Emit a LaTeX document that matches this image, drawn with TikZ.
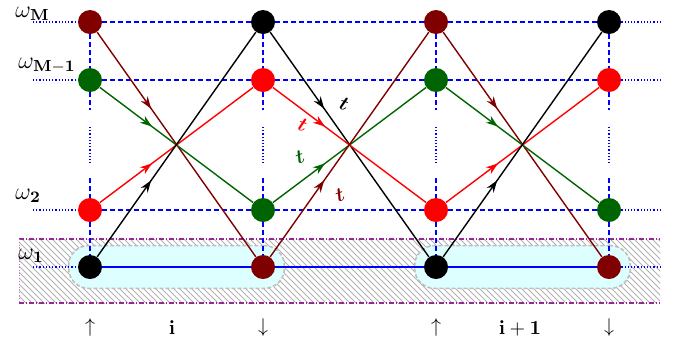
\documentclass[tikz,border=0pt]{standalone}
\usepackage{amsmath,amssymb,bm}
\usetikzlibrary{arrows.meta,positioning,fit,decorations.markings,patterns,backgrounds}
\definecolor{wred}{RGB}{128,0,0}
\definecolor{wgreen}{RGB}{0,100,0}
\definecolor{gridblue}{RGB}{0,0,255}
\definecolor{bandpurple}{RGB}{150,40,150}
\definecolor{cellcyan}{RGB}{222,255,255}

\begin{document}
\begin{tikzpicture}[
        x=0.5pt,y=-0.5pt,
        site/.style={circle,fill=#1,minimum size=12pt,inner sep=0pt},
        grid/.style={gridblue,thick,dash pattern=on 2.5pt off 1.5pt},
        ext/.style={gridblue,semithick,densely dotted},
        hop/.style={#1,line width=0.7pt,postaction={decorate},
                    decoration={markings,mark=at position 0.34 with {\arrow{Stealth[length=6pt,width=4.2pt]}}}},
        cell/.style={draw=gray!50,thick,dash pattern=on 2pt off 1pt,fill=cellcyan,
                     rounded corners=10pt,inner sep=4.5pt},
        wlbl/.style={anchor=south west,inner sep=0pt,font=\large},
        tlbl/.style={inner sep=0pt},
      ]
        \useasboundingbox (0,0) rectangle (673,349);
        % sites, odd and even columns
        \foreach \c/\x in {1/90,3/436}{
          \node[site=wred]   (c\c-4) at (\x,22)  {};
          \node[site=wgreen] (c\c-3) at (\x,80)  {};
          \node[site=red]    (c\c-2) at (\x,210) {};
          \node[site=black]  (c\c-1) at (\x,267) {};
        }
        \foreach \c/\x in {2/263,4/609}{
          \node[site=black]  (c\c-4) at (\x,22)  {};
          \node[site=red]    (c\c-3) at (\x,80)  {};
          \node[site=wgreen] (c\c-2) at (\x,210) {};
          \node[site=wred]   (c\c-1) at (\x,267) {};
        }
        % hatched band and cells
        \begin{scope}[on background layer]
          \path[pattern=north west lines,pattern color=gray!60] (19,239) rectangle (660,303);
          \draw[bandpurple,thick,dash pattern=on 2.5pt off 1pt on 0.5pt off 1pt] (19,239) -- (660,239);
          \draw[bandpurple,thick,dash pattern=on 2.5pt off 1pt on 0.5pt off 1pt] (19,303) -- (660,303);
          \draw[bandpurple!60,densely dotted] (19,239) -- (19,303);
          \node[cell,fit=(c1-1)(c2-1)] (cell-i) {};
          \node[cell,fit=(c3-1)(c4-1)] (cell-ii) {};
        \end{scope}
        % frequency grid
        \foreach \r/\y in {4/22,3/80,2/210}{
          \draw[grid] (c1-\r) -- (c2-\r) -- (c3-\r) -- (c4-\r);
          \draw[ext] (33,\y) -- (c1-\r);
          \draw[ext] (c4-\r) -- (660,\y);
        }
        \draw[gridblue,thick] (c1-1) -- (c2-1) -- (c3-1) -- (c4-1);
        \draw[ext] (33,267) -- (c1-1);
        \draw[ext] (c4-1) -- (660,267);
        \foreach \c/\x in {1/90,2/263,3/436,4/609}{
          \draw[grid] (c\c-4) -- (c\c-3);
          \draw[grid] (c\c-3) -- (\x,110);
          \draw[ext] (\x,127) -- (\x,165);
          \draw[grid] (\x,178) -- (c\c-2);
          \draw[grid] (c\c-2) -- (c\c-1);
        }
        % hops i -> i+1
        \foreach \a/\b in {1/2,3/4}{
          \draw[hop=wred]   (c\a-4) -- (c\b-1);
          \draw[hop=wgreen] (c\a-3) -- (c\b-2);
          \draw[hop=red]    (c\a-2) -- (c\b-3);
          \draw[hop=black]  (c\a-1) -- (c\b-4);
        }
        \draw[hop=black] (c2-4) -- node[tlbl,pos=0.36,above right=2pt and 5pt,rotate=-20]{$\bm{t}$} (c3-1);
        \draw[hop=red]   (c2-3) -- node[tlbl,pos=0.26,below left=1.3pt and 1.5pt,rotate=-20]{$\bm{t}$} (c3-2);
        \draw[hop=wgreen](c2-2) -- node[tlbl,pos=0.27,above left=4.5pt and 3.7pt,rotate=20]{$\bm{t}$} (c3-3);
        \draw[hop=wred]  (c2-1) -- node[tlbl,pos=0.32,below right=2.5pt and 6pt,rotate=20]{$\bm{t}$} (c3-4);
        % level labels
        \node[wlbl] (w-M)  at (15,21)  {$\omega_{\mathbf{M}}$};
        \node[wlbl] (w-M1) at (18,74)  {$\omega_{\mathbf{M-1}}$};
        \node[wlbl] (w-2)  at (15,203) {$\omega_{\mathbf{2}}$};
        \node[wlbl] (w-1)  at (18,263) {$\omega_{\mathbf{1}}$};
        % sites along the chain
        \node (up-i)   at (90,327)  {$\uparrow$};
        \node (lab-i)  at (172,328) {$\mathbf{i}$};
        \node (dn-i)   at (263,327) {$\downarrow$};
        \node (up-ii)  at (436,327) {$\uparrow$};
        \node (lab-ii) at (520,328) {$\mathbf{i+1}$};
        \node (dn-ii)  at (609,327) {$\downarrow$};
      \end{tikzpicture}
\end{document}
